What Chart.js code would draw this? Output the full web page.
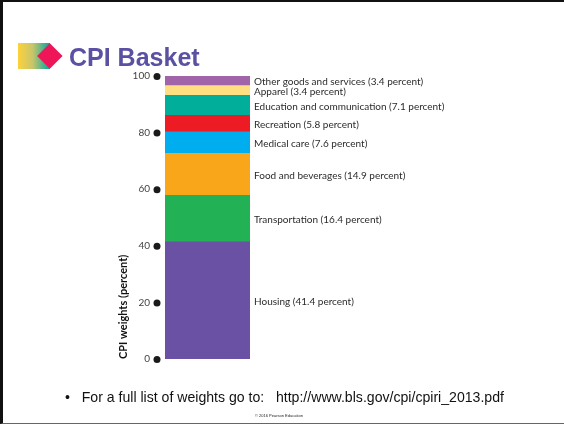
<!DOCTYPE html>
<html><head><meta charset="utf-8">
<script src="https://cdn.jsdelivr.net/npm/chart.js@4"></script>
<style>
html,body{margin:0;padding:0;background:#fff;overflow:hidden}
#slide{position:relative;width:564px;height:424px;overflow:hidden;font-family:"Liberation Sans",Arial,sans-serif}
#frame{position:absolute;left:0;top:0;width:564px;height:424px;box-sizing:border-box;border-left:3px solid #111;border-top:2px solid #111;border-bottom:1px solid #666;pointer-events:none}
#c{position:absolute;left:0;top:0}
#grad{position:absolute;left:18px;top:43px;width:32px;height:26px;background:linear-gradient(90deg,#fdd13a 0%,#c9c66a 45%,#00a7a0 100%)}
#dia{position:absolute;left:40.6px;top:47.2px;width:17.7px;height:17.7px;background:#ee1558;transform:rotate(45deg)}
#title{position:absolute;left:69px;top:42px;font-size:25px;font-weight:bold;color:#5b51a3;line-height:30px;white-space:nowrap}
#note{position:absolute;left:65px;top:388px;font-size:14.1px;color:#111;line-height:18px;white-space:pre}
#foot{position:absolute;left:255px;top:413px;font-size:4px;color:#222;line-height:6px;white-space:nowrap}
</style></head><body>
<div id="slide">
<canvas id="c" width="564" height="424"></canvas>
<div id="grad"></div><div id="dia"></div>
<div id="title">CPI Basket</div>
<div id="note">•   For a full list of weights go to:   http://www.bls.gov/cpi/cpiri_2013.pdf</div>
<div id="foot">© 2016 Pearson Education</div>
<div id="frame"></div>
</div>
<script>
const categories = ["CPI"];
const seriesNames = ["Housing","Transportation","Food and beverages","Medical care","Recreation","Education and communication","Apparel","Other goods and services"];
const seriesValues = [41.4,16.4,14.9,7.6,5.8,7.1,3.4,3.4];
const seriesColors = ["#6a51a3","#22b155","#faa61a","#00aeef","#ed1c24","#00ae9a","#ffdf80","#a264a8"];
const tickValues = [0,20,40,60,80,100];
const axisTitle = "CPI weights (percent)";

const segmentLabels = {
  id:'segmentLabels',
  afterDraw(chart){
    const {ctx,scales:{y},chartArea:a} = chart;
    ctx.save();
    ctx.fillStyle='#2b2b2b';
    ctx.font='10px "Lato"';
    ctx.textBaseline='middle';
    ctx.textAlign='left';
    let base=0;
    seriesValues.forEach((v,i)=>{
      const mid=base+v/2; base+=v;
      ctx.fillText(seriesNames[i]+' ('+v+' percent)',a.right+4,y.getPixelForValue(mid)+1);
    });
    ctx.fillStyle='#1a1a1a';
    tickValues.forEach(t=>{
      ctx.beginPath();
      ctx.arc(a.left-8,y.getPixelForValue(t)+0.5,3.5,0,Math.PI*2);
      ctx.fill();
    });
    ctx.restore();
  }
};

new Chart(document.getElementById('c'),{
  type:'bar',
  data:{labels:categories,datasets:seriesNames.map((n,i)=>({label:n,data:[seriesValues[i]],backgroundColor:seriesColors[i],stack:'s',barPercentage:1,categoryPercentage:1}))},
  options:{
    responsive:false,animation:false,
    layout:{padding:{left:117,right:314,top:76,bottom:65}},
    plugins:{legend:{display:false},tooltip:{enabled:false}},
    scales:{
      x:{display:false,stacked:true},
      y:{stacked:true,min:0,max:100,
        afterFit(s){s.width=48;},
        afterBuildTicks(s){s.ticks=tickValues.map(v=>({value:v}));},
        border:{display:false},
        grid:{display:false,drawTicks:false},
        ticks:{padding:15,color:'#444',font:{family:'Lato',size:10}},
        title:{display:true,text:axisTitle,align:'start',color:'#111',padding:0,font:{family:'Lato',size:11,weight:'bold'}}
      }
    }
  },
  plugins:[segmentLabels]
});
</script>
</body></html>
